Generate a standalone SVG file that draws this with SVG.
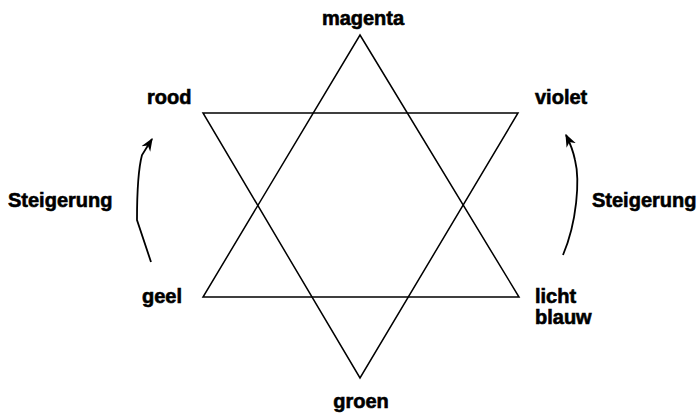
<svg xmlns="http://www.w3.org/2000/svg" width="700" height="416" viewBox="0 0 700 416">
<defs>
<style>
.lbl{font-family:"Liberation Sans",Arial,sans-serif;font-weight:bold;font-size:20px;fill:#000;stroke:#000;stroke-width:0.6}
.tri{fill:none;stroke:#000;stroke-width:1.5;stroke-linejoin:miter}
.arr{fill:none;stroke:#000;stroke-width:1.8}
</style>
<marker id="ah" viewBox="0 0 10 10" refX="9" refY="5" markerWidth="13" markerHeight="13" markerUnits="userSpaceOnUse" orient="auto">
<path d="M0,1 L10,5 L0,9 L3,5 Z" fill="#000"/>
</marker>
</defs>
<rect width="700" height="416" fill="#fff"/>
<g id="connectors">
<polygon class="tri" points="360,35 519,297 203,297"/>
<polygon class="tri" points="203,113 518,113 360,378"/>
<path class="arr" d="M151,262 L137,220 C137,195 138,170 142,155 L152,139" marker-end="url(#ah)"/>
<path class="arr" d="M563,255 C577,222 580,180 575,160 C573,150 570,143 566,135" marker-end="url(#ah)"/>
</g>
<g id="magenta"><text class="lbl" x="363" y="25" text-anchor="middle">magenta</text></g>
<g id="rood"><text class="lbl" x="147" y="104">rood</text></g>
<g id="violet"><text class="lbl" x="535" y="104">violet</text></g>
<g id="steigerung-left"><text class="lbl" x="8" y="207">Steigerung</text></g>
<g id="steigerung-right"><text class="lbl" x="592" y="207">Steigerung</text></g>
<g id="geel"><text class="lbl" x="142" y="303">geel</text></g>
<g id="lichtblauw"><text class="lbl" x="535" y="303">licht</text><text class="lbl" x="535" y="324">blauw</text></g>
<g id="groen"><text class="lbl" x="361" y="408" text-anchor="middle">groen</text></g>
</svg>
